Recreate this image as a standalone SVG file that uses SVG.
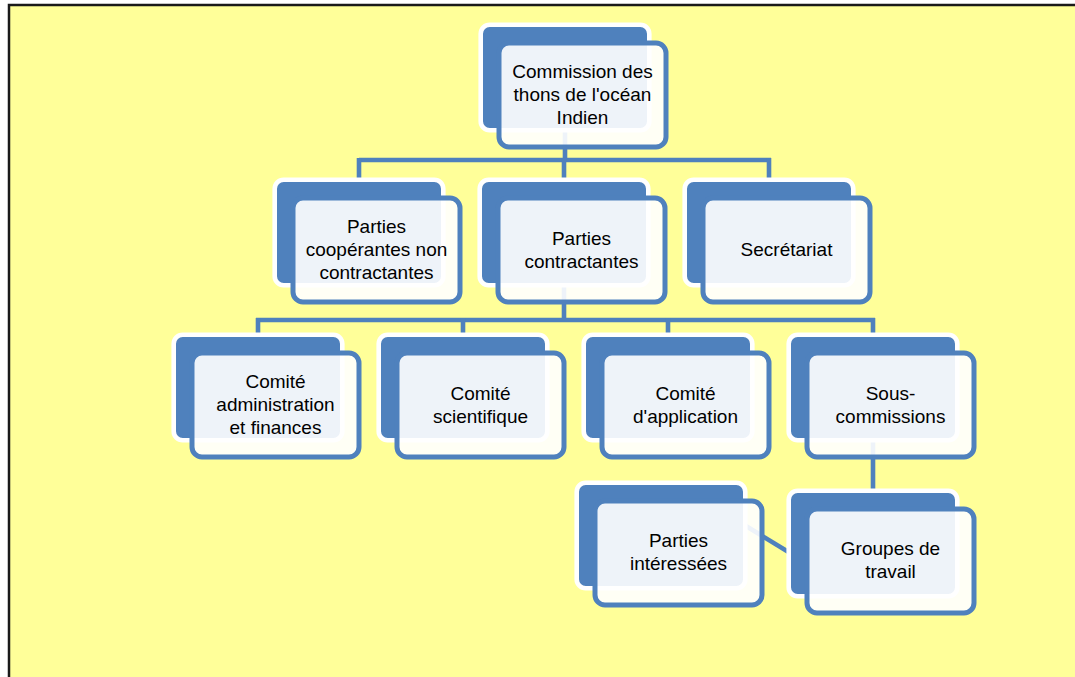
<svg xmlns="http://www.w3.org/2000/svg" width="1075" height="677" viewBox="0 0 1075 677">
  <style>
    .bg { fill: #FFFF99; stroke: #1a1a1a; stroke-width: 2.5; }
    .conn { stroke: #4F81BD; stroke-width: 4.6; fill: none; stroke-linecap: butt; }
    .back { fill: #4F81BD; stroke: #FFFFFF; stroke-width: 4.6; }
    .front { fill: #FFFFFF; fill-opacity: 0.9; stroke: #4F81BD; stroke-width: 5; }
    .lbl { font-family: "Liberation Sans", Arial, sans-serif; font-size: 19px; fill: #000000; text-anchor: middle; }
  </style>
  <rect x="0" y="0" width="1075" height="677" fill="#FFFFFF"/>
  <rect class="bg" x="9" y="5" width="1080" height="690"/>

  <g id="connectors">
    <line class="conn" x1="565" y1="128" x2="565" y2="160"/>
    <line class="conn" x1="359" y1="160" x2="771" y2="160"/>
    <line class="conn" x1="359" y1="158" x2="359" y2="184"/>
    <line class="conn" x1="564" y1="158" x2="564" y2="184"/>
    <line class="conn" x1="769" y1="158" x2="769" y2="184"/>
    <line class="conn" x1="564" y1="282" x2="564" y2="320"/>
    <line class="conn" x1="256" y1="320" x2="875" y2="320"/>
    <line class="conn" x1="258" y1="318" x2="258" y2="339"/>
    <line class="conn" x1="463" y1="318" x2="463" y2="339"/>
    <line class="conn" x1="668" y1="318" x2="668" y2="339"/>
    <line class="conn" x1="873" y1="318" x2="873" y2="339"/>
    <line class="conn" x1="873" y1="438" x2="873" y2="495"/>
    <line class="conn" x1="700" y1="498" x2="800" y2="559"/>
  </g>

  <g id="node-commission">
    <rect class="back" x="480.7" y="24.7" width="168.6" height="105.6" rx="9"/>
    <rect class="front" x="499" y="43" width="167" height="104" rx="10"/>
    <text class="lbl" x="582.5" y="78">Commission des</text>
    <text class="lbl" x="582.5" y="101">thons de l'océan</text>
    <text class="lbl" x="582.5" y="124">Indien</text>
  </g>

  <g id="node-cooperantes">
    <rect class="back" x="274.7" y="179.7" width="168.6" height="105.6" rx="9"/>
    <rect class="front" x="293" y="198" width="167" height="104" rx="10"/>
    <text class="lbl" x="376.5" y="233">Parties</text>
    <text class="lbl" x="376.5" y="256">coopérantes non</text>
    <text class="lbl" x="376.5" y="279">contractantes</text>
  </g>

  <g id="node-contractantes">
    <rect class="back" x="479.7" y="179.7" width="168.6" height="105.6" rx="9"/>
    <rect class="front" x="498" y="198" width="167" height="104" rx="10"/>
    <text class="lbl" x="581.5" y="244.5">Parties</text>
    <text class="lbl" x="581.5" y="267.5">contractantes</text>
  </g>

  <g id="node-secretariat">
    <rect class="back" x="684.7" y="179.7" width="168.6" height="105.6" rx="9"/>
    <rect class="front" x="703" y="198" width="167" height="104" rx="10"/>
    <text class="lbl" x="786.5" y="256">Secrétariat</text>
  </g>

  <g id="node-admin">
    <rect class="back" x="173.7" y="334.7" width="168.6" height="105.6" rx="9"/>
    <rect class="front" x="192" y="353" width="167" height="104" rx="10"/>
    <text class="lbl" x="275.5" y="388">Comité</text>
    <text class="lbl" x="275.5" y="411">administration</text>
    <text class="lbl" x="275.5" y="434">et finances</text>
  </g>

  <g id="node-scientifique">
    <rect class="back" x="378.7" y="334.7" width="168.6" height="105.6" rx="9"/>
    <rect class="front" x="397" y="353" width="167" height="104" rx="10"/>
    <text class="lbl" x="480.5" y="399.5">Comité</text>
    <text class="lbl" x="480.5" y="422.5">scientifique</text>
  </g>

  <g id="node-application">
    <rect class="back" x="583.7" y="334.7" width="168.6" height="105.6" rx="9"/>
    <rect class="front" x="602" y="353" width="167" height="104" rx="10"/>
    <text class="lbl" x="685.5" y="399.5">Comité</text>
    <text class="lbl" x="685.5" y="422.5">d'application</text>
  </g>

  <g id="node-souscommissions">
    <rect class="back" x="788.7" y="334.7" width="168.6" height="105.6" rx="9"/>
    <rect class="front" x="807" y="353" width="167" height="104" rx="10"/>
    <text class="lbl" x="890.5" y="399.5">Sous-</text>
    <text class="lbl" x="890.5" y="422.5">commissions</text>
  </g>

  <g id="node-interessees">
    <rect class="back" x="576.7" y="482.7" width="168.6" height="105.6" rx="9"/>
    <rect class="front" x="595" y="501" width="167" height="104" rx="10"/>
    <text class="lbl" x="678.5" y="547">Parties</text>
    <text class="lbl" x="678.5" y="570">intéressées</text>
  </g>

  <g id="node-groupes">
    <rect class="back" x="788.7" y="490.7" width="168.6" height="105.6" rx="9"/>
    <rect class="front" x="807" y="509" width="167" height="104" rx="10"/>
    <text class="lbl" x="890.5" y="555">Groupes de</text>
    <text class="lbl" x="890.5" y="578">travail</text>
  </g>
</svg>
